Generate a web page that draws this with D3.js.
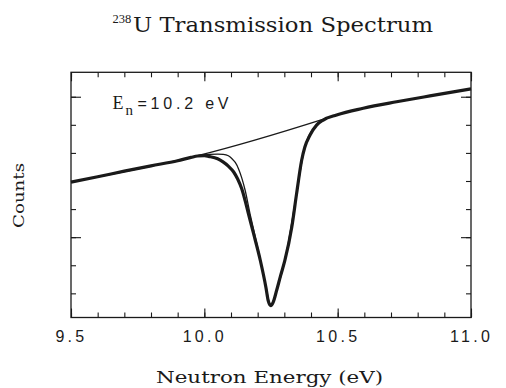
<!DOCTYPE html>
<html>
<head>
<meta charset="utf-8">
<script src="https://cdn.jsdelivr.net/npm/d3@7"></script>
<style>
  body { margin: 0; background: #fff; }
  svg { display: block; }
</style>
</head>
<body>
<div id="chart"></div>
<script>
// measured spectrum (energy in eV, counts in arbitrary units)
var dataEnergy = [9.50, 9.60, 9.70, 9.80, 9.90, 9.95, 9.975, 10.00, 10.02, 10.05, 10.07, 10.09,
    10.11, 10.125, 10.14, 10.153, 10.165, 10.184, 10.21, 10.231, 10.24, 10.249, 10.258, 10.271,
    10.286, 10.302, 10.328, 10.346, 10.365, 10.377, 10.396, 10.421, 10.446, 10.496, 10.596,
    10.721, 10.846, 11.0];
var dataCounts = [6.96, 7.15, 7.35, 7.54, 7.72, 7.84, 7.89, 7.90, 7.87, 7.79, 7.68, 7.53,
    7.32, 7.07, 6.73, 6.30, 5.85, 5.15, 4.17, 3.21, 2.72, 2.56, 2.68, 3.10,
    3.63, 4.17, 5.36, 6.55, 7.74, 8.21, 8.63, 8.99, 9.17, 9.35, 9.59,
    9.82, 10.03, 10.28];

// resonance fit
var fitEnergy = [9.90, 9.95, 9.975, 10.00, 10.021, 10.05, 10.071, 10.09, 10.103, 10.116, 10.128,
    10.14, 10.153, 10.171, 10.184, 10.21, 10.231, 10.249, 10.271, 10.302, 10.346, 10.377,
    10.421, 10.446, 10.496, 10.596, 10.721, 10.846, 11.0];
var fitCounts = [7.72, 7.84, 7.90, 7.93, 7.95, 7.96, 7.95, 7.90, 7.80, 7.66, 7.44,
    7.12, 6.67, 5.85, 5.30, 4.20, 3.22, 2.58, 3.10, 4.17, 6.55, 8.21,
    8.99, 9.17, 9.35, 9.59, 9.82, 10.03, 10.28];

// off-resonance background
var baseEnergy = [9.50, 9.975, 10.45, 10.496, 10.596, 10.721, 10.846, 11.0];
var baseCounts = [6.96, 7.90, 9.21, 9.35, 9.59, 9.82, 10.03, 10.28];

var xMajorTicks = [9.5, 10.0, 10.5, 11.0];
var xMinorTicks = d3.range(95, 111).map(function(d) { return d / 10; });
var yMajorTicks = [5, 10];
var yMinorTicks = [3, 4, 5, 6, 7, 8, 9, 10];

var vis = {};
vis.width = 506;
vis.height = 388;
vis.margin = {top: 72.3, right: 35, bottom: 70.5, left: 71};

vis.svg = d3.select("#chart").append("svg")
    .attr("width", vis.width)
    .attr("height", vis.height);

vis.x = d3.scaleLinear()
    .domain([9.5, 11.0])
    .range([vis.margin.left, vis.width - vis.margin.right]);

vis.y = d3.scaleLinear()
    .domain([2.14, 10.87])
    .range([vis.height - vis.margin.bottom, vis.margin.top]);

var x0 = vis.x.range()[0], x1 = vis.x.range()[1];
var yB = vis.y.range()[0], yT = vis.y.range()[1];
var ink = "#1a1a1a";

function styleAxis(g) {
    g.select(".domain").remove();
    g.selectAll(".tick line").attr("stroke", ink).attr("stroke-width", 1.1);
}

// minor ticks, all four sides, pointing inward
vis.svg.append("g").attr("transform", "translate(0," + yB + ")")
    .call(d3.axisBottom(vis.x).tickValues(xMinorTicks).tickSize(-5).tickFormat(""))
    .call(styleAxis);
vis.svg.append("g").attr("transform", "translate(0," + yT + ")")
    .call(d3.axisTop(vis.x).tickValues(xMinorTicks).tickSize(-5).tickFormat(""))
    .call(styleAxis);
vis.svg.append("g").attr("transform", "translate(" + x0 + ",0)")
    .call(d3.axisLeft(vis.y).tickValues(yMinorTicks).tickSize(-5).tickFormat(""))
    .call(styleAxis);
vis.svg.append("g").attr("transform", "translate(" + x1 + ",0)")
    .call(d3.axisRight(vis.y).tickValues(yMinorTicks).tickSize(-5).tickFormat(""))
    .call(styleAxis);

// major ticks
vis.svg.append("g").attr("class", "xlabels").attr("transform", "translate(0," + yB + ")")
    .call(d3.axisBottom(vis.x).tickValues(xMajorTicks).tickSize(-9).tickPadding(13)
        .tickFormat(d3.format(".1f")))
    .call(styleAxis);
vis.svg.append("g").attr("transform", "translate(0," + yT + ")")
    .call(d3.axisTop(vis.x).tickValues(xMajorTicks).tickSize(-9).tickFormat(""))
    .call(styleAxis);
vis.svg.append("g").attr("transform", "translate(" + x0 + ",0)")
    .call(d3.axisLeft(vis.y).tickValues(yMajorTicks).tickSize(-10).tickFormat(""))
    .call(styleAxis);
vis.svg.append("g").attr("transform", "translate(" + x1 + ",0)")
    .call(d3.axisRight(vis.y).tickValues(yMajorTicks).tickSize(-10).tickFormat(""))
    .call(styleAxis);

vis.svg.selectAll(".xlabels text")
    .attr("fill", ink)
    .style("font-family", "'Liberation Sans', Arial, sans-serif")
    .style("font-size", "16px")
    .style("letter-spacing", "3.3px");

// frame
vis.svg.append("rect")
    .attr("x", x0).attr("y", yT)
    .attr("width", x1 - x0).attr("height", yB - yT)
    .attr("fill", "none")
    .attr("stroke", ink)
    .attr("stroke-width", 1.3);

// curves
var line = d3.line()
    .x(function(d) { return vis.x(d[0]); })
    .y(function(d) { return vis.y(d[1]); })
    .curve(d3.curveMonotoneX);

function pairs(xs, ys) { return xs.map(function(v, i) { return [v, ys[i]]; }); }

vis.svg.append("path")
    .datum(pairs(baseEnergy, baseCounts))
    .attr("d", line)
    .attr("fill", "none").attr("stroke", ink).attr("stroke-width", 1.3);

vis.svg.append("path")
    .datum(pairs(fitEnergy, fitCounts))
    .attr("d", line)
    .attr("fill", "none").attr("stroke", ink).attr("stroke-width", 1.3);

vis.svg.append("path")
    .datum(pairs(dataEnergy, dataCounts))
    .attr("d", line)
    .attr("fill", "none").attr("stroke", ink).attr("stroke-width", 3.2)
    .attr("stroke-linejoin", "round");

// titles
var serif = "'DejaVu Serif', serif";

vis.svg.append("text")
    .attr("x", 112.5).attr("y", 23)
    .attr("fill", ink)
    .style("font-family", "'Liberation Serif', serif").style("font-size", "12.5px")
    .text("238");
vis.svg.append("text")
    .attr("x", 133).attr("y", 31.7)
    .attr("fill", ink)
    .style("font-family", serif).style("font-size", "20px")
    .attr("textLength", 300).attr("lengthAdjust", "spacingAndGlyphs")
    .text("U Transmission Spectrum");

vis.svg.append("text")
    .attr("x", 156).attr("y", 383.3)
    .attr("fill", ink)
    .style("font-family", serif).style("font-size", "17px")
    .attr("textLength", 227).attr("lengthAdjust", "spacingAndGlyphs")
    .text("Neutron Energy (eV)");

vis.svg.append("text")
    .attr("transform", "translate(23.5,228) rotate(-90)")
    .attr("fill", ink)
    .style("font-family", serif).style("font-size", "14.5px")
    .attr("textLength", 65).attr("lengthAdjust", "spacingAndGlyphs")
    .text("Counts");

// resonance label
var lab = vis.svg.append("g").attr("fill", ink);
lab.append("text").attr("x", 112.5).attr("y", 109.3)
    .style("font-family", "'Liberation Serif', serif").style("font-size", "18px")
    .text("E");
lab.append("text").attr("x", 125.5).attr("y", 115)
    .style("font-family", "'Liberation Serif', serif").style("font-size", "15px")
    .text("n");
lab.append("text").attr("x", 137.5).attr("y", 109.3)
    .style("font-family", "'Liberation Sans', Arial, sans-serif").style("font-size", "16px")
    .attr("textLength", 91).attr("lengthAdjust", "spacing")
    .text("=10.2  eV");
</script>
</body>
</html>
